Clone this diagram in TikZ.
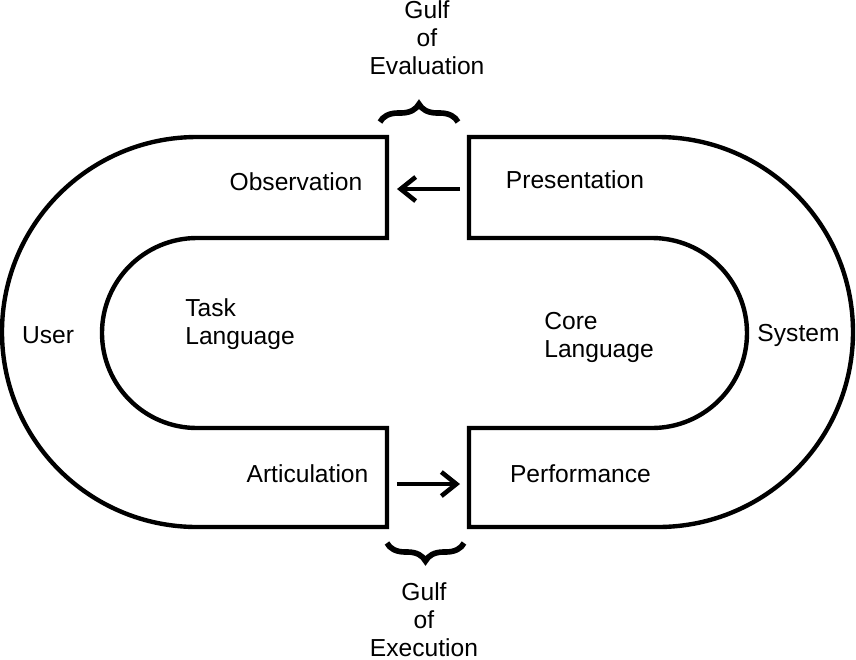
\documentclass[tikz,border=0pt]{standalone}
\usepackage{fontspec}
\setmainfont{Liberation Sans}
\usepackage{tikz}
\usetikzlibrary{calc,positioning,arrows.meta,decorations.pathreplacing}

\tikzset{
  lbl/.style={inner sep=0pt, font=\fontsize{14}{16}\selectfont},
  wall/.style={line width=2.5pt, line join=miter},
  gulfbrace/.style={line width=3.2pt, decorate, decoration={brace, amplitude=0.36cm}},
}

\begin{document}
\begin{tikzpicture}[node distance=1cm,auto,>={Straight Barb[length=0.3cm,width=0.48cm]}]
  \useasboundingbox (-8.56,6.64) rectangle (8.56,-6.54);

  % the two U shaped bands
  \draw[wall] (-0.82,3.9) -- (-4.62,3.9) arc[start angle=90, end angle=270, radius=3.9]
    -- (-0.82,-3.9) -- (-0.82,-1.92) -- (-4.62,-1.92)
    arc[start angle=270, end angle=90, radius=1.9] -- (-0.82,1.88) -- cycle;
  \draw[wall] (0.82,3.9) -- (4.6,3.9) arc[start angle=90, end angle=-90, radius=3.9]
    -- (0.82,-3.9) -- (0.82,-1.92) -- (4.48,-1.92)
    arc[start angle=-90, end angle=90, radius=1.9] -- (0.82,1.88) -- cycle;

  %%%%

  \node[lbl] (obs) at (-2.64,3.0) {Observation};
  \node[lbl] (pres) at (2.94,3.04) {Presentation};
  \node[lbl] (art) at (-2.41,-2.84) {Articulation};
  \node[lbl, right of=art, node distance=5.46cm] (perf) {Performance};

  \node[lbl] (user) at (-7.6,-0.06) {User};
  \node[lbl, right of=user, node distance=15.01cm] (sys) {System};

  \node[lbl, anchor=north west, align=left] (task) at (-4.86,0.68) {Task\\Language};
  \node[lbl, anchor=north west, align=left] (core) at (2.32,0.4) {Core\\Language};

  %%%%

  \coordinate (eval_r) at (0.64,2.86);
  \coordinate (eval_l) at (-0.62,2.86);
  \draw[->, line width=2.6pt] (eval_r) -- (eval_l);

  \coordinate (exec_l) at (-0.62,-3.04);
  \coordinate (exec_r) at (0.64,-3.04);
  \draw[->, line width=2.6pt] (exec_l) -- (exec_r);

  %%%%

  \coordinate (bt_l) at (-0.96,4.2);
  \coordinate (bt_r) at (0.6,4.2);
  \draw[gulfbrace] (bt_l) -- (bt_r);
  \node[lbl, align=center] (gulf_eval) at (-0.02,5.88) {Gulf\\of\\Evaluation};

  \coordinate (bb_r) at (0.72,-4.22);
  \coordinate (bb_l) at (-0.82,-4.22);
  \draw[gulfbrace] (bb_r) -- (bb_l);
  \node[lbl, align=center] (gulf_exec) at (-0.08,-5.76) {Gulf\\of\\Execution};

\end{tikzpicture}
\end{document}
